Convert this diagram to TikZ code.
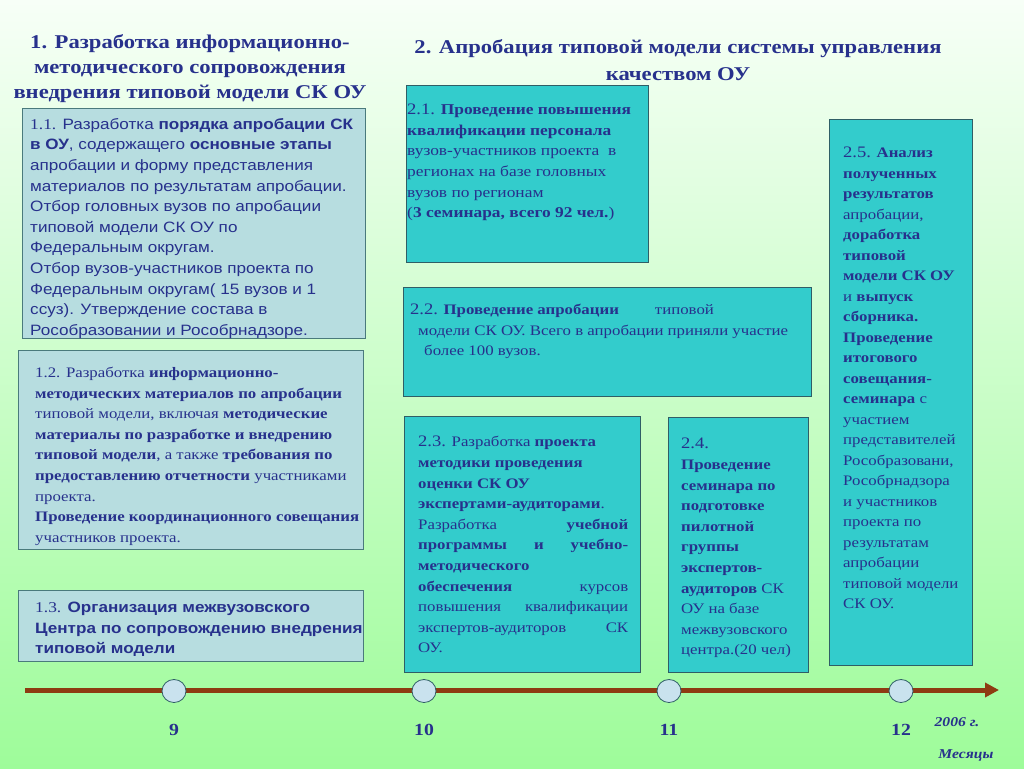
\documentclass[tikz,border=0pt]{standalone}
\usepackage{fontspec}
\setmainfont{Liberation Serif}[FakeStretch=1.16]
\setsansfont{Liberation Sans}[FakeStretch=1.14]
\usetikzlibrary{arrows.meta, positioning, shapes.geometric}
\definecolor{navy}{HTML}{27318C}
\definecolor{paleblue}{HTML}{B7DDE0}
\definecolor{turq}{HTML}{33CCCC}
\definecolor{boxedge}{HTML}{2F5E66}
\definecolor{grayedge}{HTML}{4A7A7C}
\definecolor{rust}{HTML}{8E3B12}
\definecolor{mint}{HTML}{9EFC9A}
\definecolor{paper}{HTML}{F7FFF7}
\definecolor{dotfill}{HTML}{C9E2EE}

\begin{document}
\begin{tikzpicture}[x=1pt, y=-1pt,
  leftbox/.style={draw=grayedge, fill=paleblue, line width=1.2pt, anchor=north west, inner sep=0pt},
  midbox/.style={draw=boxedge, fill=turq, line width=1.2pt, anchor=north west, inner sep=0pt},
  txt/.style={anchor=north west, inner sep=0pt, align=left, text=navy, font=\fontsize{14.5}{20.6}\selectfont},
  sanstxt/.style={txt, font=\sffamily\fontsize{15}{20.6}\selectfont},
  headline/.style={align=center, text=navy, font=\bfseries\fontsize{19.5}{25}\selectfont},
  monthdot/.style={ellipse, draw=boxedge, fill=dotfill, line width=0.8pt, minimum width=24pt, minimum height=23pt, inner sep=0pt},
  monthlabel/.style={text=navy, font=\bfseries\fontsize{17}{20}\selectfont},
  unitlabel/.style={text=navy, font=\bfseries\itshape\fontsize{13.5}{16}\selectfont}
]

% Background
\useasboundingbox (0,0) rectangle (1024,768);
\shade[top color=paper, bottom color=mint] (0,0) rectangle (1024,768);

% Titles
\node[headline] (h1) at (190,69) {1. Разработка информационно-\\методического сопровождения\\внедрения типовой модели СК ОУ};
\node[headline, font=\bfseries\fontsize{19.5}{27}\selectfont] (h2) at (678,60) {2. Апробация типовой модели системы управления\\качеством ОУ};

% =========== LEFT: stage 1 ===========
\node[leftbox, minimum width=343pt, minimum height=230pt] (b11) at (22,108) {};
\node[sanstxt] (t11) at (30,118) {{\rmfamily 1.1.} Разработка \textbf{порядка апробации СК}\\
  \textbf{в ОУ}, содержащего \textbf{основные этапы}\\
  апробации и форму представления\\
  материалов по результатам апробации.\\
  Отбор головных вузов по апробации\\
  типовой модели СК ОУ по\\
  Федеральным округам.\\
  Отбор вузов-участников проекта по\\
  Федеральным округам( 15 вузов и 1\\
  ссуз). Утверждение состава в\\
  Рособразовании и Рособрнадзоре.};

\node[leftbox, minimum width=345pt, minimum height=199pt] (b12) at (18,350) {};
\node[txt] (t12) at (35,367) {1.2. Разработка \textbf{информационно-}\\
  \textbf{методических материалов по апробации}\\
  типовой модели, включая \textbf{методические}\\
  \textbf{материалы по разработке и внедрению}\\
  \textbf{типовой модели}, а также \textbf{требования по}\\
  \textbf{предоставлению отчетности} участниками\\
  проекта.\\
  \textbf{Проведение координационного совещания}\\
  участников проекта.};

\node[leftbox, minimum width=345pt, minimum height=71pt] (b13) at (18,590) {};
\node[sanstxt] (t13) at (35,602) {{\rmfamily 1.3.} \textbf{Организация межвузовского}\\
  \textbf{Центра по сопровождению внедрения}\\
  \textbf{типовой модели}};

% =========== RIGHT: stage 2 ===========
\node[midbox, minimum width=242pt, minimum height=177pt] (b21) at (406,85) {};
\node[txt, font=\fontsize{15}{20.6}\selectfont] (t21) at (407,104) {{\fontsize{16}{20.6}\selectfont 2.1.} \textbf{Проведение повышения}\\
  \textbf{квалификации персонала}\\
  вузов-участников проекта\ \ в\\
  регионах на базе головных\\
  вузов по регионам\\
  (\textbf{3 семинара, всего 92 чел.})};

\node[midbox, minimum width=408pt, minimum height=109pt] (b22) at (403,287) {};
\node[txt] (t22) at (410,304) {{\fontsize{16}{20.6}\selectfont 2.2.} \textbf{Проведение апробации}\hspace{36pt}типовой\\
  \hspace{8pt}модели СК ОУ. Всего в апробации приняли участие\\
  \hspace{14pt}более 100 вузов.};

\node[midbox, minimum width=236pt, minimum height=256pt] (b23) at (404,416) {};
\node[txt] (t23) at (418,436) {{\fontsize{16}{20.6}\selectfont 2.3.} Разработка \textbf{проекта}\\
  \textbf{методики проведения}\\
  \textbf{оценки СК ОУ}\\
  \textbf{экспертами-аудиторами}.\\
  \hbox to 210pt{Разработка\hfill\textbf{учебной}}\\
  \hbox to 210pt{\textbf{программы}\hfill\textbf{и}\hfill\textbf{учебно-}}\\
  \textbf{методического}\\
  \hbox to 210pt{\textbf{обеспечения}\hfill курсов}\\
  \hbox to 210pt{повышения\hfill квалификации}\\
  \hbox to 210pt{экспертов-аудиторов\hfill СК}\\
  ОУ.};

\node[midbox, minimum width=140pt, minimum height=255pt] (b24) at (668,417) {};
\node[txt] (t24) at (681,438) {{\fontsize{16}{20.6}\selectfont 2.4.}\\
  \textbf{Проведение}\\
  \textbf{семинара по}\\
  \textbf{подготовке}\\
  \textbf{пилотной}\\
  \textbf{группы}\\
  \textbf{экспертов-}\\
  \textbf{аудиторов} СК\\
  ОУ на базе\\
  межвузовского\\
  центра.(20 чел)};

\node[midbox, minimum width=143pt, minimum height=546pt] (b25) at (829,119) {};
\node[txt, font=\fontsize{14.5}{20.5}\selectfont] (t25) at (843,147) {{\fontsize{16}{20.5}\selectfont 2.5.} \textbf{Анализ}\\
  \textbf{полученных}\\
  \textbf{результатов}\\
  апробации,\\
  \textbf{доработка}\\
  \textbf{типовой}\\
  \textbf{модели СК ОУ}\\
  и \textbf{выпуск}\\
  \textbf{сборника.}\\
  \textbf{Проведение}\\
  \textbf{итогового}\\
  \textbf{совещания-}\\
  \textbf{семинара} с\\
  участием\\
  представителей\\
  Рособразовани,\\
  Рособрнадзора\\
  и участников\\
  проекта по\\
  результатам\\
  апробации\\
  типовой модели\\
  СК ОУ.};

% =========== Timeline ===========
\coordinate (tstart) at (25,690);
\coordinate (tend) at (999,690);
\draw[rust, line width=5pt, -{Triangle[length=14pt, width=14pt]}] (tstart) -- (tend);

\foreach \m/\x in {9/174, 10/424, 11/669, 12/901} {
  \node[monthdot] (d\m) at (\x,691) {};
  \node[monthlabel] (l\m) at (\x,730) {\m};
}

\node[unitlabel] (year) at (957,722) {2006 г.};
\node[unitlabel] (months) at (966,755) {Месяцы};

\end{tikzpicture}
\end{document}
